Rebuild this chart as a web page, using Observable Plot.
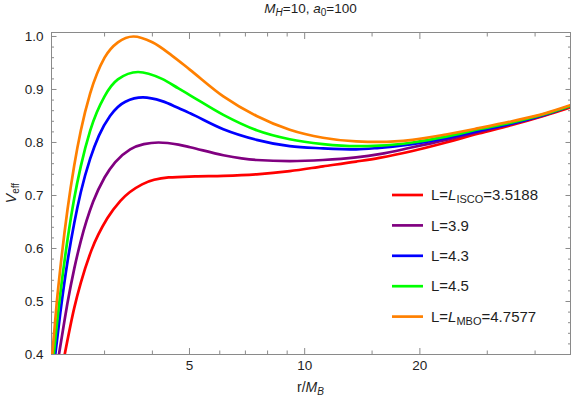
<!DOCTYPE html>
<html><head><meta charset="utf-8">
<script src="https://cdn.jsdelivr.net/npm/d3@7"></script>
<script src="https://cdn.jsdelivr.net/npm/@observablehq/plot@0.6"></script>
<style>
body{margin:0;background:#fff}
svg{font-family:"Liberation Sans",Arial,sans-serif}
</style>
</head><body><div id="chart"></div>
<script>
// ---- data ----
const seriesNames = ["L_ISCO", "L3.9", "L4.3", "L4.5", "L_MBO"];
const seriesColors = ["#ff0000", "#800080", "#0000ff", "#00ff00", "#ff8000"];

const rIsco = [2.36, 2.5, 2.6, 2.77, 3.05, 3.30, 3.76, 4.41, 5.17, 6.13, 7.49, 9.14, 11.16, 13.63, 15.67, 19.13, 23.4, 28.5, 34.8, 42.5, 49.4];
const vIsco = [0.40, 0.488, 0.535, 0.596, 0.657, 0.690, 0.721, 0.734, 0.736, 0.737, 0.740, 0.746, 0.755, 0.764, 0.771, 0.784, 0.800, 0.817, 0.833, 0.851, 0.866];

const r39 = [2.28, 2.35, 2.4, 2.5, 2.6, 2.8, 3.0, 3.2, 3.5, 3.8, 4.15, 4.68, 5.02, 6.13, 7.49, 9.14, 11.16, 13.63, 15.67, 19.13, 23.4, 28.5, 34.8, 42.5, 49.4];
const v39 = [0.40, 0.458, 0.497, 0.562, 0.614, 0.688, 0.734, 0.763, 0.787, 0.797, 0.800, 0.796, 0.791, 0.776, 0.767, 0.765, 0.767, 0.772, 0.778, 0.791, 0.805, 0.820, 0.835, 0.852, 0.869];

const r43 = [2.23, 2.3, 2.4, 2.5, 2.6, 2.75, 2.9, 3.1, 3.4, 3.78, 4.24, 4.68, 5.02, 6.13, 7.49, 9.14, 11.16, 13.63, 15.67, 19.13, 23.4, 28.5, 34.8, 42.5, 49.4];
const v43 = [0.40, 0.480, 0.575, 0.648, 0.706, 0.769, 0.813, 0.850, 0.877, 0.885, 0.878, 0.865, 0.855, 0.825, 0.805, 0.793, 0.789, 0.787, 0.790, 0.797, 0.808, 0.822, 0.836, 0.853, 0.869];

const r45 = [2.21, 2.25, 2.3, 2.4, 2.5, 2.6, 2.75, 3.0, 3.25, 3.67, 4.24, 4.68, 5.02, 6.13, 7.49, 9.14, 11.16, 13.63, 15.67, 19.13, 23.4, 28.5, 34.8, 42.5, 49.4];
const v45 = [0.40, 0.455, 0.516, 0.616, 0.695, 0.755, 0.822, 0.887, 0.919, 0.933, 0.920, 0.902, 0.889, 0.852, 0.823, 0.806, 0.797, 0.793, 0.794, 0.800, 0.811, 0.825, 0.838, 0.854, 0.869];

const rMbo = [2.19, 2.25, 2.3, 2.4, 2.5, 2.6, 2.75, 3.0, 3.25, 3.57, 4.0, 4.5, 5.0, 6.13, 7.49, 9.14, 11.16, 13.63, 15.67, 19.13, 23.4, 28.5, 34.8, 42.5, 49.4];
const vMbo = [0.40, 0.498, 0.564, 0.673, 0.757, 0.822, 0.892, 0.960, 0.989, 1.000, 0.989, 0.964, 0.938, 0.887, 0.850, 0.824, 0.809, 0.802, 0.801, 0.805, 0.815, 0.827, 0.840, 0.855, 0.870];

const xDomain = [2.18, 49.5];
const yDomain = [0.4, 1.0075];
const xMajorTicks = [5, 10, 20];
const xMinorTicks = [3, 4, 6, 7, 8, 9, 15, 30, 40];
const yMajorTicks = [0.4, 0.5, 0.6, 0.7, 0.8, 0.9, 1.0];
const yMinorTicks = [0.42, 0.44, 0.46, 0.48, 0.52, 0.54, 0.56, 0.58, 0.62, 0.64, 0.66, 0.68,
  0.72, 0.74, 0.76, 0.78, 0.82, 0.84, 0.86, 0.88, 0.92, 0.94, 0.96, 0.98];

// legend text pieces: [prefix, italic symbol, subscript, suffix]
const legendLabels = [
  ["L=", "L", "ISCO", "=3.5188"],
  ["L=3.9", "", "", ""],
  ["L=4.3", "", "", ""],
  ["L=4.5", "", "", ""],
  ["L=", "L", "MBO", "=4.7577"]
];

// ---- table ----
const seriesR = [rIsco, r39, r43, r45, rMbo];
const seriesV = [vIsco, v39, v43, v45, vMbo];
const table = seriesNames.flatMap((name, i) => seriesR[i].map((r, j) => ({name, r, v: seriesV[i][j]})));

const tickColor = "#8a8a8a";
const textColor = "#1e1e1e";
const M = {left: 51, right: 6, top: 32, bottom: 47};

const plot = Plot.plot({
  width: 576, height: 401,
  marginLeft: M.left, marginRight: M.right, marginTop: M.top, marginBottom: M.bottom,
  style: {fontFamily: "Liberation Sans, Arial, sans-serif", fontSize: "13.5px", color: textColor, background: "#fff"},
  x: {type: "log", domain: xDomain},
  y: {domain: yDomain},
  color: {domain: seriesNames, range: seriesColors},
  marks: [
    Plot.axisX(xMinorTicks, {anchor: "bottom", tickSize: -3.5, fill: "none", label: null, stroke: tickColor}),
    Plot.axisX(xMajorTicks, {anchor: "bottom", tickSize: -6, fill: "none", label: null, stroke: tickColor}),
    Plot.axisX(xMinorTicks, {anchor: "top", tickSize: -3.5, fill: "none", label: null, stroke: tickColor}),
    Plot.axisX(xMajorTicks, {anchor: "top", tickSize: -6, fill: "none", label: null, stroke: tickColor}),
    Plot.axisX(xMajorTicks, {anchor: "bottom", tickSize: 0, tickPadding: 6, stroke: "none", label: null, fill: textColor, tickFormat: d => String(d)}),
    Plot.axisY(yMinorTicks, {anchor: "left", tickSize: -3, fill: "none", label: null, stroke: tickColor}),
    Plot.axisY(yMajorTicks, {anchor: "left", tickSize: -5.5, fill: "none", label: null, stroke: tickColor}),
    Plot.axisY(yMinorTicks, {anchor: "right", tickSize: -3, fill: "none", label: null, stroke: tickColor}),
    Plot.axisY(yMajorTicks, {anchor: "right", tickSize: -5.5, fill: "none", label: null, stroke: tickColor}),
    Plot.axisY(yMajorTicks, {anchor: "left", tickSize: 0, tickPadding: 8, stroke: "none", label: null, fill: textColor, tickFormat: d => d.toFixed(1)}),
    Plot.frame({stroke: tickColor}),
    Plot.line(table, {x: "r", y: "v", z: "name", stroke: "name", strokeWidth: 2.7, curve: "monotone-x", clip: true})
  ]
});

document.getElementById("chart").appendChild(plot);

// ---- rich text: title, axis labels, legend ----
const svg = d3.select(plot);
const cx = (M.left + 576 - M.right) / 2;
const g = svg.append("g").attr("font-family", "Liberation Sans, Arial, sans-serif").attr("fill", textColor);

// title
const title = g.append("text").attr("x", cx).attr("y", 13).attr("text-anchor", "middle").attr("font-size", 13.5);
title.append("tspan").attr("font-style", "italic").text("M");
title.append("tspan").attr("font-style", "italic").attr("font-size", 10).attr("dy", 3).text("H");
title.append("tspan").attr("dy", -3).text("=10, ");
title.append("tspan").attr("font-style", "italic").text("a");
title.append("tspan").attr("font-size", 10).attr("dy", 3).text("0");
title.append("tspan").attr("dy", -3).text("=100");

// x label
const xl = g.append("text").attr("x", cx).attr("y", 392).attr("text-anchor", "middle").attr("font-size", 14);
xl.append("tspan").text("r/");
xl.append("tspan").attr("font-style", "italic").text("M");
xl.append("tspan").attr("font-style", "italic").attr("font-size", 10).attr("dy", 3).text("B");

// y label
const yl = g.append("text").attr("transform", `translate(16,${(M.top + 401 - M.bottom) / 2}) rotate(-90)`).attr("text-anchor", "middle").attr("font-size", 14);
yl.append("tspan").attr("font-style", "italic").text("V");
yl.append("tspan").attr("font-size", 10).attr("dy", 3).text("eff");

// legend
const color = plot.scale("color");
const lg = g.append("g").attr("text-anchor", "start");
const rowY0 = 195, rowStep = 30.4;
seriesNames.forEach((name, i) => {
  const y = rowY0 + i * rowStep;
  lg.append("line").attr("x1", 392).attr("x2", 423).attr("y1", y).attr("y2", y)
    .attr("stroke", color.apply(name)).attr("stroke-width", 2.7);
  const t = lg.append("text").attr("x", 431).attr("y", y + 5.2).attr("font-size", 15).attr("text-anchor", "start");
  const [pre, it, sub, post] = legendLabels[i];
  t.append("tspan").text(pre);
  if (it) {
    t.append("tspan").attr("font-style", "italic").text(it);
    t.append("tspan").attr("font-size", 11).attr("dy", 3).text(sub);
    t.append("tspan").attr("dy", -3).text(post);
  }
});
</script>
</body></html>
